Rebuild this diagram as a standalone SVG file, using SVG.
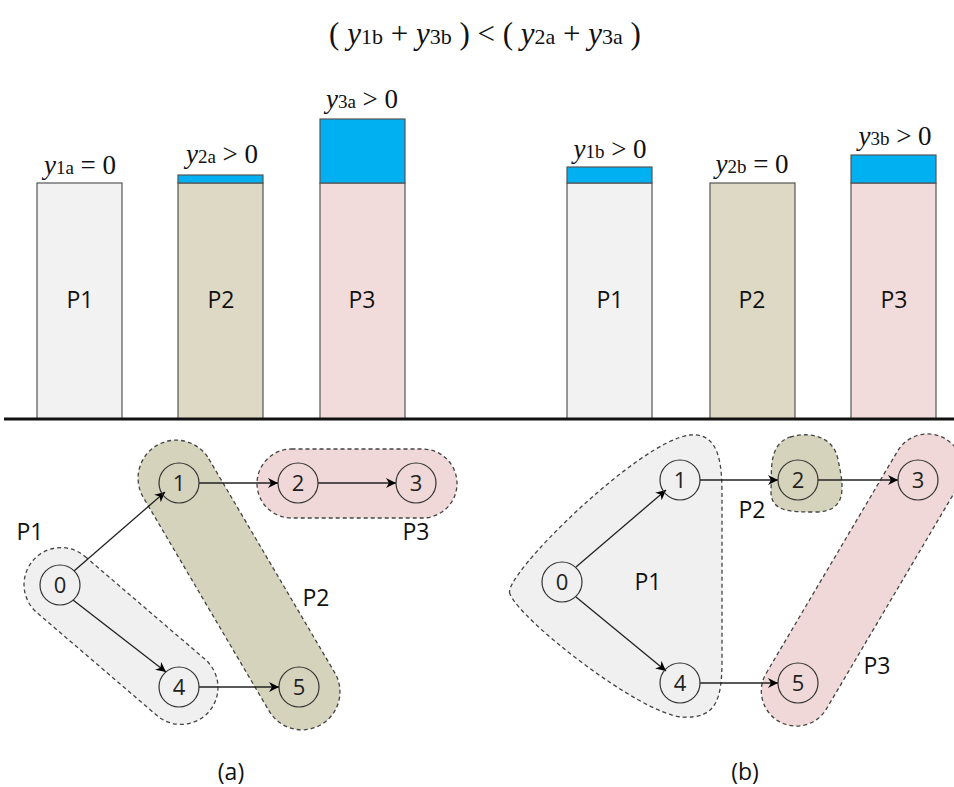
<svg xmlns="http://www.w3.org/2000/svg" width="954" height="787" viewBox="0 0 954 787">
<defs>
<marker id="arr" viewBox="0 0 10 10" refX="10" refY="5" markerWidth="10" markerHeight="10" markerUnits="userSpaceOnUse" orient="auto">
<path d="M0,0 L10,5 L0,10 L3,5 Z" fill="#000"/>
</marker>
</defs>
<style>
.bar{stroke:#555;stroke-width:1.2}
.g{fill:#f2f2f2}.o{fill:#ddd9c4}.p{fill:#f2dcdb}.b{fill:#00b0f0}
.reg{stroke:#444;stroke-width:1.3;stroke-dasharray:4,3}
.rg{fill:#f0f0f0}.ro{fill:#d6d3bc}.rp{fill:#f0d8d8}
.node{fill:none;stroke:#333;stroke-width:1.2}
.nt{font-family:"Open Sans","Liberation Sans",sans-serif;font-size:22px;fill:#222;text-anchor:middle}
.lb{font-family:"Open Sans","Liberation Sans",sans-serif;font-size:23px;fill:#111;text-anchor:middle}
.m{font-family:"Liberation Serif",serif;font-size:27px;fill:#111}
.t{font-size:31px}
.sub{font-size:19px;font-style:normal}
.t .sub{font-size:22px}
.it{font-style:italic}
.edge{stroke:#222;stroke-width:1.3;fill:none;marker-end:url(#arr)}
</style>
<rect width="954" height="787" fill="#fff"/>
<text class="m t" x="485" y="44" text-anchor="middle">( <tspan class="it">y</tspan><tspan class="sub">1b</tspan> + <tspan class="it">y</tspan><tspan class="sub">3b</tspan> ) &lt; ( <tspan class="it">y</tspan><tspan class="sub">2a</tspan> + <tspan class="it">y</tspan><tspan class="sub">3a</tspan> )</text>

<g id="bars-a">
<rect class="bar g" x="37" y="183" width="85" height="236"/>
<rect class="bar o" x="178" y="183" width="85" height="236"/>
<rect class="bar b" x="178" y="175" width="85" height="8"/>
<rect class="bar p" x="320" y="183" width="85" height="236"/>
<rect class="bar b" x="320" y="119" width="85" height="64"/>
<text class="m" x="80" y="174" text-anchor="middle"><tspan class="it">y</tspan><tspan class="sub">1a</tspan> = 0</text>
<text class="m" x="222" y="163" text-anchor="middle"><tspan class="it">y</tspan><tspan class="sub">2a</tspan> &gt; 0</text>
<text class="m" x="362" y="108" text-anchor="middle"><tspan class="it">y</tspan><tspan class="sub">3a</tspan> &gt; 0</text>
<text class="lb" x="80" y="308">P1</text>
<text class="lb" x="221" y="308">P2</text>
<text class="lb" x="362" y="308">P3</text>
</g>
<g id="bars-b">
<rect class="bar g" x="567" y="183" width="85" height="236"/>
<rect class="bar b" x="567" y="167" width="85" height="16"/>
<rect class="bar o" x="710" y="183" width="85" height="236"/>
<rect class="bar p" x="851" y="183" width="85" height="236"/>
<rect class="bar b" x="851" y="155" width="85" height="28"/>
<text class="m" x="610" y="158" text-anchor="middle"><tspan class="it">y</tspan><tspan class="sub">1b</tspan> &gt; 0</text>
<text class="m" x="752" y="173" text-anchor="middle"><tspan class="it">y</tspan><tspan class="sub">2b</tspan> = 0</text>
<text class="m" x="895" y="145" text-anchor="middle"><tspan class="it">y</tspan><tspan class="sub">3b</tspan> &gt; 0</text>
<text class="lb" x="610" y="308">P1</text>
<text class="lb" x="752" y="308">P2</text>
<text class="lb" x="894" y="308">P3</text>
</g>
<line x1="4" y1="419" x2="954" y2="419" stroke="#111" stroke-width="3"/>

<g id="regions-a">
<rect class="reg rg" x="-116" y="-37" width="232" height="74" rx="37" transform="translate(121,636) rotate(40.6)"/>
<rect class="reg ro" x="-162" y="-38" width="324" height="76" rx="38" transform="translate(239,585) rotate(59.5)"/>
<rect class="reg rp" x="257" y="449" width="200" height="69" rx="34.5"/>
<text class="lb" x="30" y="540">P1</text>
<text class="lb" x="316" y="606">P2</text>
<text class="lb" x="416" y="540">P3</text>
</g>
<g id="regions-b">
<path class="reg rg" d="M510,594 C500,578 640,440 690,435 C722,432 722,470 722,500 L722,660 C722,700 716,719 682,717 C640,714 520,620 510,594 Z"/>
<path class="reg ro" d="M790,437 C815,430 835,440 838,460 C845,490 846,512 815,512 C790,512 770,512 771,490 C772,470 768,445 790,437 Z"/>
<rect class="reg rp" x="-164" y="-35" width="328" height="70" rx="35" transform="translate(862,580) rotate(-59.4)"/>
<text class="lb" x="752" y="518">P2</text>
<text class="lb" x="648" y="590">P1</text>
<text class="lb" x="877" y="674">P3</text>
</g>

<g id="connectors">
<line class="edge" x1="74" y1="571" x2="165" y2="492"/>
<line class="edge" x1="73" y1="600" x2="166" y2="672"/>
<line class="edge" x1="199" y1="483" x2="278" y2="483"/>
<line class="edge" x1="318" y1="483" x2="396" y2="483"/>
<line class="edge" x1="199" y1="687" x2="279" y2="687"/>
<line class="edge" x1="576" y1="567" x2="666" y2="490"/>
<line class="edge" x1="576" y1="597" x2="666" y2="671"/>
<line class="edge" x1="700" y1="480" x2="778" y2="480"/>
<line class="edge" x1="818" y1="480" x2="898" y2="480"/>
<line class="edge" x1="700" y1="683" x2="778" y2="683"/>
</g>

<g id="node-a0"><circle class="node" cx="60" cy="585" r="20"/><text class="nt" x="60" y="593">0</text></g>
<g id="node-a1"><circle class="node" cx="179" cy="483" r="20"/><text class="nt" x="179" y="491">1</text></g>
<g id="node-a2"><circle class="node" cx="298" cy="483" r="20"/><text class="nt" x="298" y="491">2</text></g>
<g id="node-a3"><circle class="node" cx="416" cy="483" r="20"/><text class="nt" x="416" y="491">3</text></g>
<g id="node-a4"><circle class="node" cx="179" cy="687" r="20"/><text class="nt" x="179" y="695">4</text></g>
<g id="node-a5"><circle class="node" cx="299" cy="687" r="20"/><text class="nt" x="299" y="695">5</text></g>

<g id="node-b0"><circle class="node" cx="562" cy="582" r="20"/><text class="nt" x="562" y="590">0</text></g>
<g id="node-b1"><circle class="node" cx="680" cy="480" r="20"/><text class="nt" x="680" y="488">1</text></g>
<g id="node-b2"><circle class="node" cx="798" cy="480" r="20"/><text class="nt" x="798" y="488">2</text></g>
<g id="node-b3"><circle class="node" cx="918" cy="480" r="20"/><text class="nt" x="918" y="488">3</text></g>
<g id="node-b4"><circle class="node" cx="680" cy="683" r="20"/><text class="nt" x="680" y="691">4</text></g>
<g id="node-b5"><circle class="node" cx="798" cy="683" r="20"/><text class="nt" x="798" y="691">5</text></g>

<text class="lb" x="231" y="780">(a)</text>
<text class="lb" x="745" y="780">(b)</text>
</svg>
